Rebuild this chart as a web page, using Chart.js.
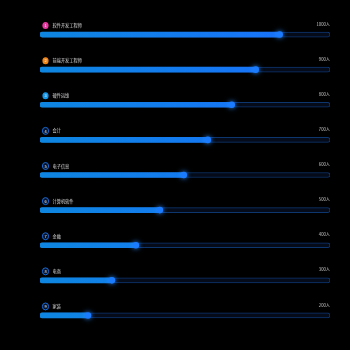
<!DOCTYPE html>
<html>
<head>
<meta charset="utf-8">
<script src="https://cdn.jsdelivr.net/npm/chart.js@4/dist/chart.umd.min.js"></script>
<style>
  html, body { margin: 0; padding: 0; background: #000; }
  #wrap { width: 350px; height: 350px; }
</style>
</head>
<body>
<div id="wrap"><canvas id="rankChart"></canvas></div>
<script>
// job categories and head counts
const categories = ['软件开发工程师', '前端开发工程师', '硬件运维', '会计', '电子信息', '计算机软件', '金融', '电商', '家装'];
const counts = [1000, 900, 800, 700, 600, 500, 400, 300, 200];
const valueLabels = ['1000人', '900人', '800人', '700人', '600人', '500人', '400人', '300人', '200人'];
const axisMax = 1210;
const trackValues = categories.map(() => axisMax);

const badgeColors = ['#e5399e', '#f0851a', '#1596e8'];
const FONT = '"Noto Sans CJK SC", "Noto Sans", sans-serif';

// badges, names, value labels and the glowing dot at the bar end
const decorations = {
  id: 'decorations',
  afterDatasetsDraw(chart) {
    const ctx = chart.ctx;
    const area = chart.chartArea;
    const bars = chart.getDatasetMeta(1).data;
    bars.forEach((bar, i) => {
      const y = bar.y;
      // rank badge
      const bx = area.left + 5.5, by = y - 9;
      ctx.save();
      ctx.beginPath();
      ctx.ellipse(bx, by, 3.1, 3.5, 0, 0, Math.PI * 2);
      if (i < 3) {
        ctx.fillStyle = badgeColors[i];
        ctx.fill();
      } else {
        ctx.fillStyle = '#06122a';
        ctx.fill();
        ctx.lineWidth = 1;
        ctx.strokeStyle = '#1a6cd6';
        ctx.stroke();
      }
      ctx.fillStyle = '#fff';
      ctx.font = '4px ' + FONT;
      ctx.textAlign = 'center';
      ctx.textBaseline = 'middle';
      ctx.fillText(String(i + 1), bx, by + 0.2);

      // category name
      ctx.fillStyle = '#d8d8d8';
      ctx.font = '4.2px ' + FONT;
      ctx.textAlign = 'left';
      ctx.fillText(categories[i], bx + 7, by);

      // value label
      ctx.fillStyle = '#c8c8c8';
      ctx.font = '4.2px ' + FONT;
      ctx.textAlign = 'right';
      ctx.fillText(valueLabels[i], area.right, y - 10.5);

      // end dot
      ctx.shadowColor = '#2a8cff';
      ctx.shadowBlur = 5;
      ctx.beginPath();
      ctx.arc(bar.x, y, 3.3, 0, Math.PI * 2);
      ctx.fillStyle = '#1b7cff';
      ctx.fill();
      ctx.restore();
    });
  }
};

const ctx = document.getElementById('rankChart');
new Chart(ctx, {
  type: 'bar',
  data: {
    labels: categories,
    datasets: [
      {
        data: trackValues,
        backgroundColor: '#050b18',
        borderColor: '#0d356e',
        borderWidth: 1,
        borderSkipped: false,
        borderRadius: 3,
        barThickness: 5,
        order: 2
      },
      {
        data: counts,
        backgroundColor(c) {
          const area = c.chart.chartArea;
          if (!area) return '#137fe8';
          const g = c.chart.ctx.createLinearGradient(area.left, 0, area.right, 0);
          g.addColorStop(0, '#0e86e0');
          g.addColorStop(1, '#1a6fff');
          return g;
        },
        borderSkipped: false,
        borderRadius: 3,
        barThickness: 5,
        order: 1
      }
    ]
  },
  options: {
    indexAxis: 'y',
    responsive: true,
    maintainAspectRatio: false,
    animation: false,
    grouped: false,
    layout: { padding: { top: 17, bottom: 17, left: 40, right: 20 } },
    scales: {
      x: { display: false, min: 0, max: axisMax },
      y: { display: false }
    },
    plugins: {
      legend: { display: false },
      tooltip: { enabled: false }
    }
  },
  plugins: [decorations]
});
</script>
</body>
</html>
